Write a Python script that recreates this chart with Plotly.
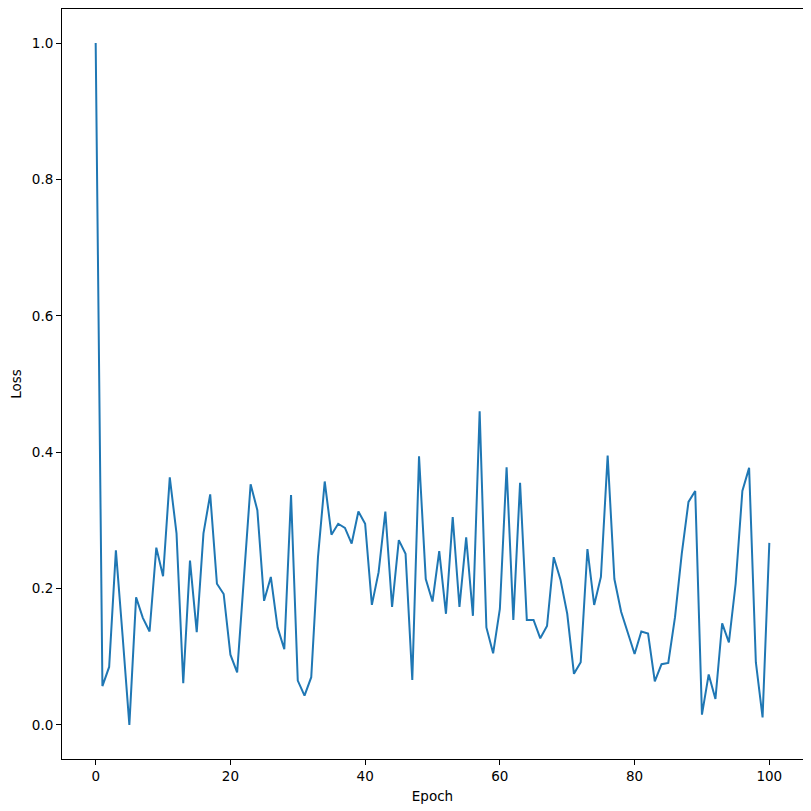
import plotly.graph_objects as go

epochs = list(range(101))
loss = [
    1.0, 0.057, 0.085, 0.256, 0.13, 0.0, 0.187, 0.157, 0.137, 0.260,
    0.218, 0.363, 0.281, 0.061, 0.241, 0.136, 0.281, 0.338, 0.207, 0.192,
    0.103, 0.077, 0.215, 0.353, 0.315, 0.182, 0.217, 0.143, 0.111, 0.337,
    0.065, 0.043, 0.070, 0.246, 0.357, 0.279, 0.295, 0.289, 0.266, 0.313,
    0.295, 0.176, 0.224, 0.313, 0.173, 0.271, 0.251, 0.066, 0.394, 0.214,
    0.181, 0.255, 0.163, 0.305, 0.173, 0.275, 0.160, 0.460, 0.143, 0.105,
    0.170, 0.378, 0.154, 0.355, 0.154, 0.154, 0.127, 0.145, 0.246, 0.213,
    0.163, 0.075, 0.092, 0.258, 0.176, 0.217, 0.395, 0.214, 0.166, 0.136,
    0.104, 0.137, 0.134, 0.064, 0.089, 0.091, 0.158, 0.251, 0.327, 0.343,
    0.015, 0.074, 0.038, 0.149, 0.121, 0.207, 0.343, 0.377, 0.092, 0.011,
    0.267,
]
x_ticks = [0, 20, 40, 60, 80, 100]
y_ticks = [0.0, 0.2, 0.4, 0.6, 0.8, 1.0]
y_tick_labels = ["0.0", "0.2", "0.4", "0.6", "0.8", "1.0"]

fig = go.Figure(go.Scatter(x=epochs, y=loss, mode="lines",
                           line=dict(color="#1f77b4", width=2)))

axis_common = dict(showline=True, linecolor="black", linewidth=1, mirror=True,
                   ticks="outside", ticklen=5, tickwidth=1, tickcolor="black",
                   showgrid=False, zeroline=False,
                   tickfont=dict(family="DejaVu Sans", size=13.5, color="black"))

fig.update_layout(
    width=803, height=803,
    margin=dict(l=54, r=8, t=1, b=52),
    paper_bgcolor="white", plot_bgcolor="white",
    showlegend=False,
    font=dict(family="DejaVu Sans", size=13.5, color="black"),
    xaxis=dict(range=[-5, 105], tickvals=x_ticks, title=dict(text="Epoch", standoff=8,
               font=dict(family="DejaVu Sans", size=13.5)), automargin=False, **axis_common),
    yaxis=dict(range=[-0.05, 1.05], tickvals=y_ticks, ticktext=y_tick_labels,
               title=dict(text="Loss", standoff=8, font=dict(family="DejaVu Sans", size=13.5)),
               automargin=False, **axis_common),
)

fig.write_html("out.html")
